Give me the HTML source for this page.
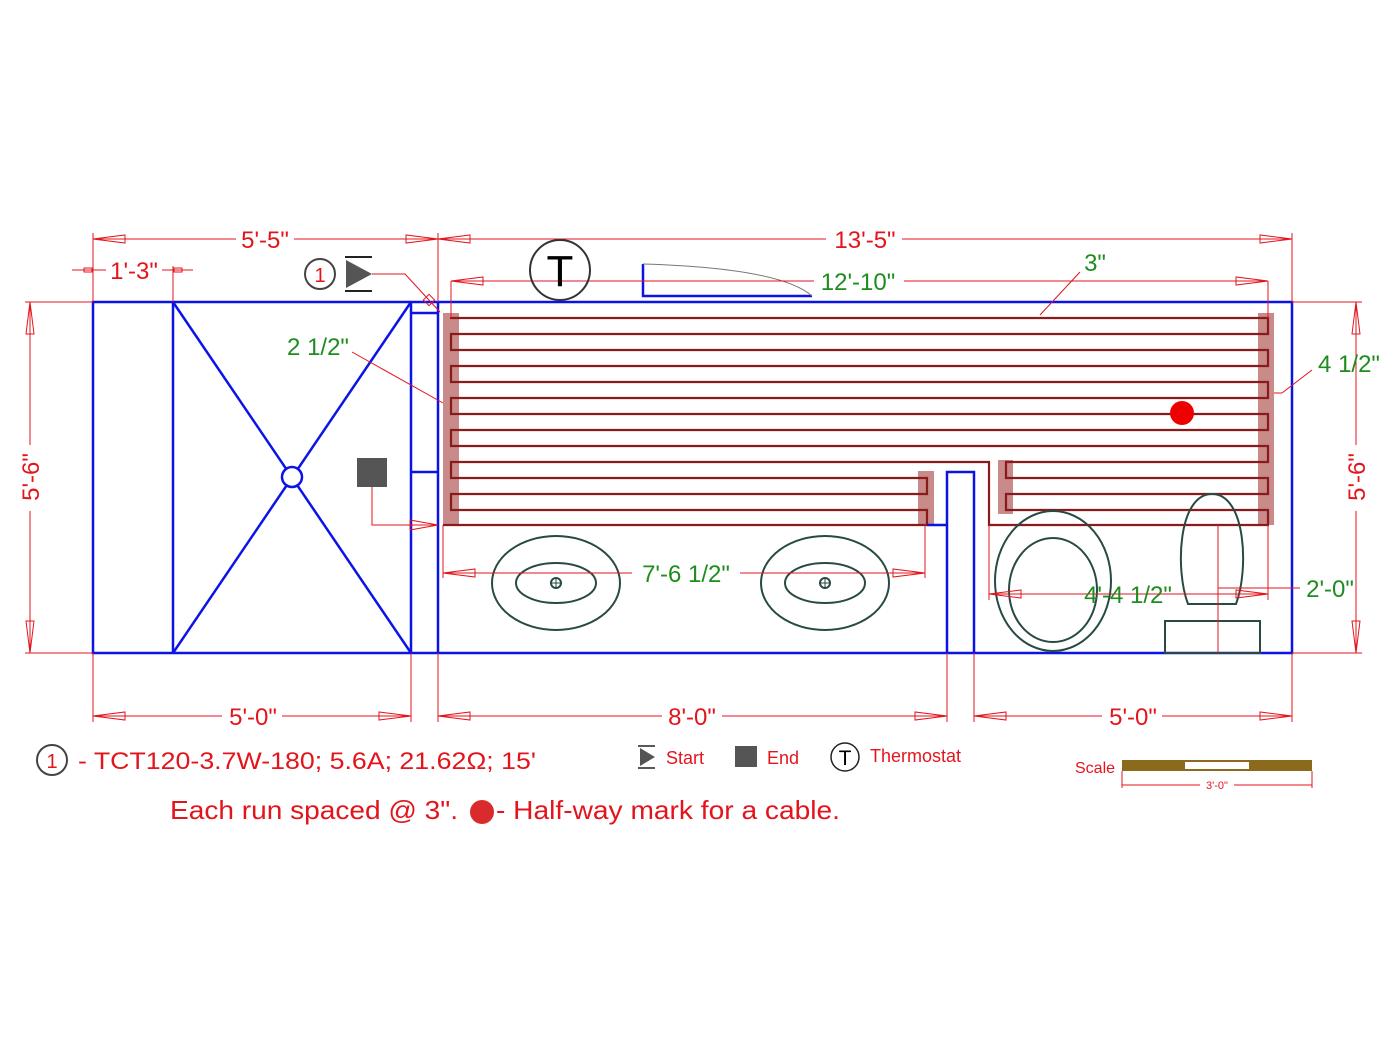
<!DOCTYPE html>
<html><head><meta charset="utf-8"><style>
html,body{margin:0;padding:0;background:#fff;}
svg{display:block;}
text{font-family:"Liberation Sans",sans-serif;}
.r{fill:#e3141c;}
.g{fill:#1f8c1f;}
</style></head><body>
<svg width="1400" height="1049" viewBox="0 0 1400 1049" xmlns="http://www.w3.org/2000/svg">
<defs>
<marker id="a" markerWidth="34" markerHeight="10" refX="33" refY="5" orient="auto-start-reverse" markerUnits="userSpaceOnUse">
<path d="M33,5 L1,1 L1,9 Z" fill="none" stroke="#e3141c" stroke-width="1"/>
</marker>
</defs>
<rect width="1400" height="1049" fill="#fff"/>

<g fill="#c98a8a">
<rect x="443" y="313" width="16" height="212"/>
<rect x="1258" y="313" width="16" height="212"/>
<rect x="918" y="471" width="16" height="54"/>
<rect x="998" y="460" width="15" height="54"/>
</g>

<path d="M450 318 H1268 V334 H451 V350 H1268 V366 H451 V382 H1268 V398 H451 V414 H1268 V430 H451 V446 H1268 V462 H1006 V478 H1268 V494 H1006 V510 H1268 V525 H989 V462 H451 V478 H927 V494 H451 V510 H927 V525 H443" fill="none" stroke="#8b1a1a" stroke-width="2.2"/>

<g fill="none" stroke="#0a14e6" stroke-width="2.5">
<rect x="93" y="302" width="1199" height="351"/>
<line x1="173" y1="302" x2="173" y2="653"/>
<line x1="411" y1="302" x2="411" y2="653"/>
<line x1="438" y1="302" x2="438" y2="653"/>
<line x1="173" y1="302" x2="411" y2="653"/>
<line x1="411" y1="302" x2="173" y2="653"/>
<line x1="411" y1="313" x2="438" y2="313"/>
<line x1="411" y1="472" x2="438" y2="472"/>
<path d="M947 653 V472 H974 V653"/>
<line x1="927" y1="525" x2="947" y2="525"/>
<path d="M643 264 V296 H812"/>
</g>
<circle cx="292" cy="477" r="10" fill="#fff" stroke="#0a14e6" stroke-width="2.5"/>
<path d="M643 264 Q780 268 812 296" fill="none" stroke="#777" stroke-width="1"/>

<g fill="none" stroke="#284a44" stroke-width="2">
<ellipse cx="556" cy="583" rx="64" ry="47"/>
<ellipse cx="556" cy="583" rx="40" ry="20"/>
<circle cx="556" cy="583" r="5"/>
<ellipse cx="825" cy="583" rx="64" ry="47"/>
<ellipse cx="825" cy="583" rx="40" ry="20"/>
<circle cx="825" cy="583" r="5"/>
<ellipse cx="1053" cy="581" rx="58" ry="70"/>
<ellipse cx="1053" cy="590" rx="44" ry="52"/>
<path d="M1188 604 C1175 570 1178 494 1212 494 C1246 494 1249 570 1236 604 Z"/>
<rect x="1165" y="621" width="95" height="32"/>
</g>
<g stroke="#284a44" stroke-width="1"><line x1="551" y1="583" x2="561" y2="583"/><line x1="556" y1="578" x2="556" y2="588"/><line x1="820" y1="583" x2="830" y2="583"/><line x1="825" y1="578" x2="825" y2="588"/></g>

<circle cx="1182" cy="413" r="12" fill="#ee0000"/>

<g stroke="#e3141c" stroke-width="1" fill="none">
<line x1="93" y1="239" x2="438" y2="239" marker-start="url(#a)" marker-end="url(#a)"/>
<line x1="438" y1="239" x2="1292" y2="239" marker-start="url(#a)" marker-end="url(#a)"/>
<line x1="93" y1="233" x2="93" y2="302"/><line x1="438" y1="233" x2="438" y2="302"/><line x1="1292" y1="233" x2="1292" y2="302"/>
<line x1="72" y1="270" x2="193" y2="270"/><line x1="173" y1="266" x2="173" y2="302"/>
<rect x="84" y="268" width="8" height="4"/><rect x="174" y="268" width="8" height="4"/>
<line x1="451" y1="281" x2="1268" y2="281" marker-start="url(#a)" marker-end="url(#a)"/>
<line x1="451" y1="281" x2="451" y2="318"/><line x1="1268" y1="281" x2="1268" y2="318"/>
<line x1="1080" y1="272" x2="1040" y2="315"/>
<line x1="30" y1="302" x2="30" y2="653" marker-start="url(#a)" marker-end="url(#a)"/>
<line x1="25" y1="302" x2="93" y2="302"/><line x1="25" y1="653" x2="93" y2="653"/>
<line x1="1356" y1="302" x2="1356" y2="653" marker-start="url(#a)" marker-end="url(#a)"/>
<line x1="1292" y1="302" x2="1362" y2="302"/><line x1="1292" y1="653" x2="1362" y2="653"/>
<line x1="1312" y1="370" x2="1282" y2="393"/><line x1="1282" y1="393" x2="1274" y2="393"/>
<line x1="352" y1="352" x2="443" y2="403"/>
<line x1="93" y1="716" x2="411" y2="716" marker-start="url(#a)" marker-end="url(#a)"/>
<line x1="438" y1="716" x2="947" y2="716" marker-start="url(#a)" marker-end="url(#a)"/>
<line x1="974" y1="716" x2="1292" y2="716" marker-start="url(#a)" marker-end="url(#a)"/>
<line x1="93" y1="653" x2="93" y2="722"/><line x1="411" y1="653" x2="411" y2="722"/><line x1="438" y1="653" x2="438" y2="722"/><line x1="947" y1="653" x2="947" y2="722"/><line x1="974" y1="653" x2="974" y2="722"/><line x1="1292" y1="653" x2="1292" y2="722"/>
<line x1="443" y1="573" x2="925" y2="573" marker-start="url(#a)" marker-end="url(#a)"/>
<line x1="443" y1="525" x2="443" y2="578"/><line x1="925" y1="525" x2="925" y2="578"/>
<line x1="989" y1="594" x2="1268" y2="594" marker-start="url(#a)" marker-end="url(#a)"/>
<line x1="989" y1="525" x2="989" y2="600"/><line x1="1268" y1="525" x2="1268" y2="600"/>
<line x1="1218" y1="525" x2="1218" y2="653"/>
<line x1="1218" y1="588" x2="1300" y2="588"/>
<path d="M372 274 H405 L440 312"/>
<rect x="425" y="296" width="8" height="8" transform="rotate(45 429 300)"/>
<path d="M372 487 V525 H438"/>
<path d="M438 525 L410 520 L410 530 Z"/>
</g>

<g fill="#fff">
<rect x="236" y="226" width="58" height="26"/>
<rect x="826" y="226" width="76" height="26"/>
<rect x="106" y="258" width="56" height="24"/>
<rect x="814" y="268" width="90" height="26"/>
<rect x="222" y="704" width="60" height="26"/>
<rect x="662" y="704" width="60" height="26"/>
<rect x="1102" y="704" width="60" height="26"/>
<rect x="17" y="445" width="26" height="66"/>
<rect x="1343" y="445" width="26" height="66"/>
<rect x="632" y="561" width="108" height="26"/>
</g>
<g class="r" font-size="24" text-anchor="middle">
<text x="265" y="248">5'-5"</text>
<text x="865" y="248">13'-5"</text>
<text x="134" y="279">1'-3"</text>
<text x="253" y="725">5'-0"</text>
<text x="692" y="725">8'-0"</text>
<text x="1133" y="725">5'-0"</text>
<text transform="translate(39 477) rotate(-90)">5'-6"</text>
<text transform="translate(1365 477) rotate(-90)">5'-6"</text>
</g>
<g class="g" font-size="24" text-anchor="middle">
<text x="858" y="290">12'-10"</text>
<text x="1095" y="271">3"</text>
<text x="1349" y="372">4 1/2"</text>
<text x="318" y="355">2 1/2"</text>
<text x="686" y="582">7'-6 1/2"</text>
<text x="1128" y="603">4'-4 1/2"</text>
<text x="1330" y="597">2'-0"</text>
</g>

<circle cx="560" cy="270" r="30" fill="none" stroke="#333" stroke-width="2"/>
<text x="560" y="286" font-size="44" text-anchor="middle" fill="#000">T</text>

<circle cx="320" cy="274" r="15" fill="none" stroke="#444" stroke-width="2"/>
<text x="320" y="282" font-size="20" text-anchor="middle" class="r">1</text>
<path d="M346 260 L372 274 L346 288 Z" fill="#555"/>
<line x1="345" y1="257" x2="372" y2="257" stroke="#222" stroke-width="2"/>
<line x1="345" y1="291" x2="372" y2="291" stroke="#222" stroke-width="2"/>
<rect x="357" y="458" width="30" height="29" fill="#555"/>

<circle cx="52" cy="760" r="15" fill="none" stroke="#444" stroke-width="2"/>
<text x="52" y="768" font-size="20" text-anchor="middle" class="r">1</text>
<text x="78" y="769" font-size="24" class="r" textLength="458" lengthAdjust="spacingAndGlyphs">- TCT120-3.7W-180; 5.6A; 21.62Ω; 15'</text>
<text x="170" y="819" font-size="26" class="r" textLength="288" lengthAdjust="spacingAndGlyphs">Each run spaced @ 3".</text>
<circle cx="482" cy="812" r="12" fill="#d92b2b"/>
<text x="496" y="819" font-size="26" class="r" textLength="344" lengthAdjust="spacingAndGlyphs">- Half-way mark for a cable.</text>

<path d="M640 748 L655 757 L640 766 Z" fill="#555"/>
<line x1="638" y1="746" x2="655" y2="746" stroke="#222" stroke-width="1.5"/>
<line x1="638" y1="768" x2="655" y2="768" stroke="#222" stroke-width="1.5"/>
<text x="666" y="764" font-size="18" class="r">Start</text>
<rect x="735" y="746" width="22" height="21" fill="#555"/>
<text x="767" y="764" font-size="18" class="r">End</text>
<circle cx="845" cy="757" r="14" fill="none" stroke="#222" stroke-width="1.5"/>
<text x="845" y="765" font-size="21" text-anchor="middle" fill="#000">T</text>
<text x="870" y="762" font-size="18" class="r">Thermostat</text>

<text x="1075" y="773" font-size="16" class="r">Scale</text>
<rect x="1122" y="760" width="190" height="11" fill="#8b6a1e"/>
<rect x="1185" y="762" width="64" height="7" fill="#fff"/>
<line x1="1122" y1="771" x2="1122" y2="788" stroke="#e3141c" stroke-width="1"/>
<line x1="1312" y1="771" x2="1312" y2="788" stroke="#e3141c" stroke-width="1"/>
<line x1="1122" y1="785" x2="1312" y2="785" stroke="#e3141c" stroke-width="1"/>
<rect x="1200" y="778" width="34" height="12" fill="#fff"/>
<text x="1217" y="789" font-size="11" text-anchor="middle" class="r">3'-0"</text>
</svg>
</body></html>
